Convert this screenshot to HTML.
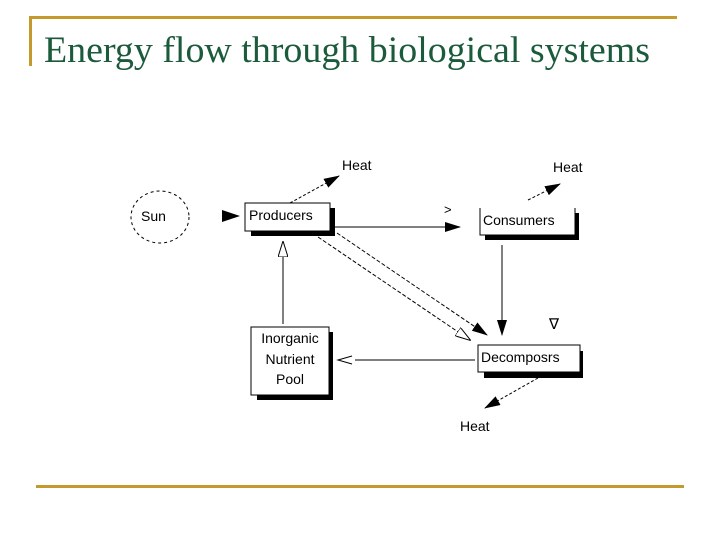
<!DOCTYPE html>
<html><head><meta charset="utf-8"><style>
body{margin:0;background:#fff;width:720px;height:540px;overflow:hidden;position:relative}
svg{position:absolute;left:0;top:0}
</style></head><body>
<svg width="720" height="540" viewBox="0 0 720 540" font-family="Liberation Sans, sans-serif">
<defs>
<marker id="f" markerWidth="16" markerHeight="10" refX="15" refY="5" orient="auto" markerUnits="userSpaceOnUse"><path d="M0,0 L16,5 L0,10 Z" fill="#000"/></marker>
<marker id="o" markerWidth="16" markerHeight="10" refX="15" refY="5" orient="auto" markerUnits="userSpaceOnUse"><path d="M0,0 L16,5 L0,10 Z" fill="#fff" stroke="#000" stroke-width="1"/></marker>
</defs>
<rect x="29" y="16" width="648" height="3" fill="#c49a2c"/>
<rect x="29" y="16" width="3" height="50" fill="#c49a2c"/>
<rect x="36" y="485" width="648" height="3" fill="#c49a2c"/>
<text x="44" y="62" font-family="Liberation Serif, serif" font-size="37" textLength="606" lengthAdjust="spacingAndGlyphs" fill="#1c5a3c">Energy flow through biological systems</text>

<ellipse cx="160" cy="217" rx="29" ry="26" fill="none" stroke="#000" stroke-dasharray="3,3"/>
<text x="141" y="221" font-size="14">Sun</text>
<path d="M222,210 L240,216 L222,222 Z" fill="#000"/>

<rect x="251" y="208" width="84" height="28" fill="#000"/>
<rect x="245" y="203" width="85" height="28" fill="#fff" stroke="#000"/>
<text x="249" y="220" font-size="14">Producers</text>

<rect x="485" y="213" width="94" height="27" fill="#000"/>
<rect x="479" y="208" width="96" height="27" fill="#fff"/>
<path d="M480,208 V235 H575 V208" fill="none" stroke="#000"/>
<text x="483" y="225" font-size="14">Consumers</text>

<rect x="484" y="351" width="99" height="27" fill="#000"/>
<rect x="478" y="345" width="102" height="27" fill="#fff" stroke="#000"/>
<text x="481" y="362" font-size="14">Decomposrs</text>

<rect x="257" y="332" width="76" height="68" fill="#000"/>
<rect x="251" y="327" width="78" height="68" fill="#fff" stroke="#000"/>
<text x="290" y="343" font-size="14" text-anchor="middle">Inorganic</text>
<text x="290" y="364" font-size="14" text-anchor="middle">Nutrient</text>
<text x="290" y="384" font-size="14" text-anchor="middle">Pool</text>

<text x="342" y="170" font-size="14">Heat</text>
<text x="553" y="172" font-size="14">Heat</text>
<text x="460" y="431" font-size="14">Heat</text>

<line x1="290" y1="203" x2="339" y2="176" stroke="#000" stroke-dasharray="3,2" marker-end="url(#f)"/>
<line x1="528" y1="200" x2="560" y2="184" stroke="#000" stroke-dasharray="3,2" marker-end="url(#f)"/>
<line x1="538" y1="378" x2="485" y2="408" stroke="#000" stroke-dasharray="3,2" marker-end="url(#f)"/>
<line x1="335" y1="227" x2="460" y2="227" stroke="#000" marker-end="url(#f)"/>
<text x="444" y="214" font-size="13">&gt;</text>
<line x1="502" y1="245" x2="502" y2="335" stroke="#000" marker-end="url(#f)"/>
<text x="549" y="329" font-size="15">∇</text>
<line x1="318" y1="237" x2="470" y2="340" stroke="#000" stroke-dasharray="4,2" marker-end="url(#o)"/>
<line x1="337" y1="233" x2="487" y2="335" stroke="#000" stroke-dasharray="4,2" marker-end="url(#f)"/>
<line x1="475" y1="360" x2="355" y2="360" stroke="#000"/>
<path d="M352,356 L338,360 L352,364" fill="none" stroke="#000"/>
<line x1="283" y1="324" x2="283" y2="242" stroke="#000" marker-end="url(#o)"/>
</svg>
</body></html>
